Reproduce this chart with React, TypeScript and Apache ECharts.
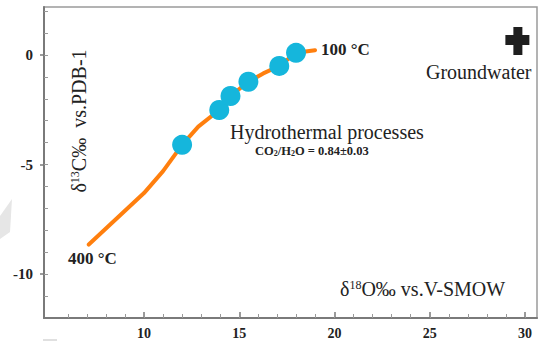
import React, { useEffect, useRef } from "react";
import * as echarts from "echarts";

// Axis ranges
const xMin = 4.75;
const xMax = 30.63;
const yMin = -12;
const yMax = 2.19;

// Tick labels / tick positions
const xLabelValues = [10, 15, 20, 25, 30];
const xMinorValues = [6, 7, 8, 9, 10, 11, 12, 13, 14, 15, 16, 17, 18, 19, 20, 21, 22, 23, 24, 25, 26, 27, 28, 29, 30];
const yLabelValues = [-10, -5, 0];
const yMinorValues = [-11, -10, -9, -8, -7, -6, -5, -4, -3, -2, -1, 0, 1, 2];

// Hydrothermal fractionation curve (400 °C -> 100 °C)
const curveX = [7.1, 10.0, 11.0, 12.0, 12.85, 13.95, 14.54, 15.48, 16.26, 17.1, 17.98, 18.98];
const curveY = [-8.65, -6.3, -5.3, -4.1, -3.27, -2.51, -1.87, -1.22, -0.84, -0.5, 0.1, 0.22];

// Sample points on the curve
const sampleX = [12.0, 13.95, 14.54, 15.48, 17.1, 17.98];
const sampleY = [-4.1, -2.51, -1.87, -1.22, -0.5, 0.1];

// Groundwater
const groundwaterX = [29.6];
const groundwaterY = [0.64];

const SERIF = "'Liberation Serif', 'Times New Roman', serif";
const CROSS = "path://M8,0 H17 V8 H24 V18 H17 V28 H8 V18 H0 V8 H8 Z";

export default function App() {
  const ref = useRef<HTMLDivElement>(null);

  useEffect(() => {
    if (!ref.current) return;
    const chart = echarts.init(ref.current, undefined, { renderer: "svg" });

    const axisColor = "#7a7a7a";
    const labelStyle = {
      fontFamily: SERIF,
      fontWeight: "bold" as const,
      fontSize: 14,
      color: "#222",
    };

    chart.setOption({
      animation: false,
      backgroundColor: "#ffffff",
      grid: {
        left: 44,
        right: 1,
        top: 7,
        bottom: 24,
        show: true,
        borderColor: "#9a9a9a",
        borderWidth: 1.5,
        backgroundColor: "transparent",
      },
      xAxis: [
        {
          type: "value",
          min: xMin,
          max: xMax,
          position: "bottom",
          splitLine: { show: false },
          axisLine: { show: true, onZero: false, lineStyle: { color: axisColor, width: 2 } },
          axisTick: { show: true, inside: true, length: 6, customValues: xLabelValues, lineStyle: { color: axisColor, width: 1.5 } },
          axisLabel: { show: true, margin: 8, customValues: xLabelValues, ...labelStyle },
        },
        {
          type: "value",
          min: xMin,
          max: xMax,
          position: "bottom",
          offset: 0,
          splitLine: { show: false },
          axisLine: { show: false, onZero: false },
          axisTick: { show: true, inside: true, length: 4, customValues: xMinorValues, lineStyle: { color: "#999", width: 1 } },
          axisLabel: { show: false },
        },
      ],
      yAxis: [
        {
          type: "value",
          min: yMin,
          max: yMax,
          position: "left",
          splitLine: { show: false },
          axisLine: { show: true, onZero: false, lineStyle: { color: axisColor, width: 2 } },
          axisTick: { show: true, inside: false, length: 4, customValues: yLabelValues, lineStyle: { color: axisColor, width: 1.5 } },
          axisLabel: { show: true, margin: 11, customValues: yLabelValues, ...labelStyle, fontSize: 15 },
        },
        {
          type: "value",
          min: yMin,
          max: yMax,
          position: "left",
          offset: 0,
          splitLine: { show: false },
          axisLine: { show: false, onZero: false },
          axisTick: { show: true, inside: true, length: 4, customValues: yMinorValues, lineStyle: { color: "#999", width: 1 } },
          axisLabel: { show: false },
        },
      ],
      series: [
        {
          type: "line",
          xAxisIndex: 0,
          yAxisIndex: 0,
          data: curveX.map((x, i) => [x, curveY[i]]),
          showSymbol: false,
          symbol: "none",
          smooth: false,
          lineStyle: { color: "#ff7f0e", width: 4, cap: "round", join: "round" },
          z: 2,
        },
        {
          type: "scatter",
          xAxisIndex: 0,
          yAxisIndex: 0,
          data: sampleX.map((x, i) => [x, sampleY[i]]),
          symbol: "circle",
          symbolSize: 20,
          itemStyle: { color: "#15b6dc", opacity: 1 },
          z: 3,
        },
        {
          type: "scatter",
          xAxisIndex: 0,
          yAxisIndex: 0,
          data: groundwaterX.map((x, i) => [x, groundwaterY[i]]),
          symbol: CROSS,
          symbolSize: [24, 28],
          itemStyle: { color: "#1e1e1e", opacity: 1 },
          z: 3,
        },
      ],
      graphic: [
        {
          type: "polygon",
          shape: { points: [[0, 216], [12, 199], [10, 232], [0, 239]] },
          style: { fill: "#e6e6e6" },
          silent: true,
          z: 0,
        },
        {
          type: "rect",
          shape: { x: 43, y: 339, width: 14, height: 2 },
          style: { fill: "#e0e0e0" },
          silent: true,
          z: 0,
        },
        {
          type: "text",
          x: 321,
          y: 49,
          style: { text: "100 °C", font: `bold 17px ${SERIF}`, fill: "#222", verticalAlign: "middle" },
        },
        {
          type: "text",
          x: 68,
          y: 258,
          style: { text: "400 °C", font: `bold 17px ${SERIF}`, fill: "#222", verticalAlign: "middle" },
        },
        {
          type: "text",
          x: 426,
          y: 72,
          style: { text: "Groundwater", font: `20px ${SERIF}`, fill: "#222", verticalAlign: "middle" },
        },
        {
          type: "text",
          x: 230,
          y: 132,
          style: { text: "Hydrothermal processes", font: `20px ${SERIF}`, fill: "#222", verticalAlign: "middle" },
        },
        {
          type: "text",
          x: 255,
          y: 151,
          style: {
            text: "{a|CO}{b|2}{a|/H}{b|2}{a|O = 0.84±0.03}",
            verticalAlign: "middle",
            rich: {
              a: { fontFamily: SERIF, fontWeight: "bold", fontSize: 12.5, fill: "#222", color: "#222" },
              b: { fontFamily: SERIF, fontWeight: "bold", fontSize: 8, fill: "#222", color: "#222", verticalAlign: "bottom" },
            },
          },
        },
        {
          type: "text",
          x: 340,
          y: 289,
          style: {
            text: "{a|δ}{s|18}{a|O‰ vs.V-SMOW}",
            verticalAlign: "middle",
            rich: {
              a: { fontFamily: SERIF, fontSize: 20, fill: "#222", color: "#222" },
              s: { fontFamily: SERIF, fontSize: 12, fill: "#222", color: "#222", verticalAlign: "top" },
            },
          },
        },
        {
          type: "text",
          x: 79,
          y: 121,
          rotation: Math.PI / 2,
          style: {
            text: "{a|δ}{s|13}{a|C‰  vs.PDB-1}",
            align: "center",
            verticalAlign: "middle",
            rich: {
              a: { fontFamily: SERIF, fontSize: 20, fill: "#222", color: "#222" },
              s: { fontFamily: SERIF, fontSize: 12, fill: "#222", color: "#222", verticalAlign: "top" },
            },
          },
        },
      ],
    });

    return () => chart.dispose();
  }, []);

  return (
    <div
      ref={ref}
      style={{ position: "fixed", left: 0, top: 0, width: 538, height: 342 }}
    />
  );
}
